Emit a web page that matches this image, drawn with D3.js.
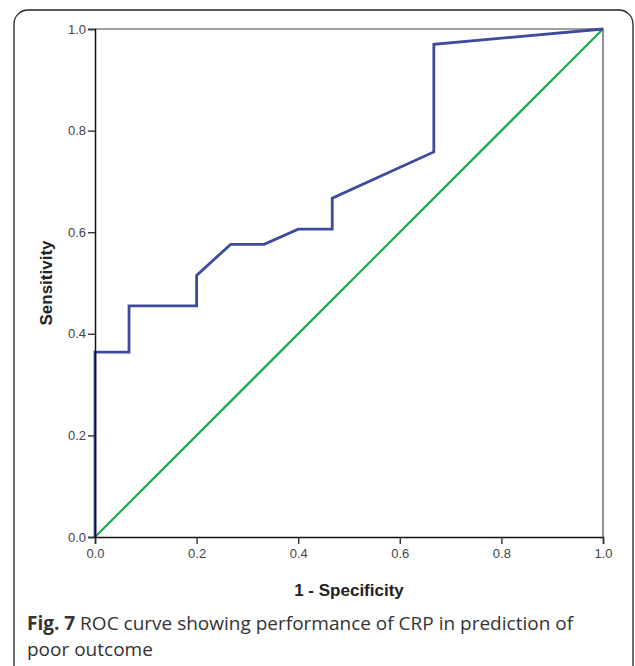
<!DOCTYPE html>
<html>
<head>
<meta charset="utf-8">
<title>ROC curve</title>
<script src="https://d3js.org/d3.v7.min.js"></script>
<style>
  body { margin: 0; background: #fff; }
  svg { display: block; }
</style>
</head>
<body>
<svg width="635" height="666"></svg>
<script>
// ROC points: 1 - specificity / sensitivity
var fpr = [0, 0, 0.067, 0.067, 0.2, 0.2, 0.267, 0.333, 0.4, 0.467, 0.467, 0.667, 0.667, 1];
var tpr = [0, 0.364, 0.364, 0.455, 0.455, 0.515, 0.576, 0.576, 0.606, 0.606, 0.667, 0.758, 0.970, 1];
var refLine = [0, 1];
var tickValues = [0, 0.2, 0.4, 0.6, 0.8, 1.0];

var svg = d3.select("svg");
var plotLeft = 95, plotTop = 29, size = 508;

// card frame
svg.append("rect")
  .attr("x", 14).attr("y", 10)
  .attr("width", 619).attr("height", 700)
  .attr("rx", 14)
  .attr("fill", "none")
  .attr("stroke", "#222")
  .attr("stroke-width", 1.3);

var x = d3.scaleLinear().domain([0, 1]).range([0, size]);
var y = d3.scaleLinear().domain([0, 1]).range([size, 0]);

var g = svg.append("g").attr("transform", "translate(" + plotLeft + "," + plotTop + ")");

// top & right frame lines
g.append("path")
  .attr("d", "M0,0H" + size + "V" + size)
  .attr("fill", "none")
  .attr("stroke", "#808080")
  .attr("stroke-width", 1.7);

// reference diagonal
g.append("path")
  .datum(refLine)
  .attr("fill", "none")
  .attr("stroke", "#1fae4b")
  .attr("stroke-width", 2.3)
  .attr("d", d3.line().x(function(d) { return x(d); }).y(function(d) { return y(d); }));

// ROC curve
var pts = fpr.map(function(v, i) { return [v, tpr[i]]; });
g.append("path")
  .datum(pts)
  .attr("fill", "none")
  .attr("stroke", "#3d4a9e")
  .attr("stroke-width", 2.8)
  .attr("stroke-linejoin", "miter")
  .attr("d", d3.line().x(function(d) { return x(d[0]); }).y(function(d) { return y(d[1]); }));

var fmt = d3.format(".1f");

var xAxis = g.append("g")
  .attr("transform", "translate(0," + size + ")")
  .call(d3.axisBottom(x).tickValues(tickValues).tickFormat(fmt).tickSize(7).tickPadding(5));
var yAxis = g.append("g")
  .call(d3.axisLeft(y).tickValues(tickValues).tickFormat(fmt).tickSize(7).tickPadding(2));

[xAxis, yAxis].forEach(function(a) {
  a.select(".domain").attr("stroke", "#111").attr("stroke-width", 1.5);
  a.selectAll(".tick line").attr("stroke", "#333").attr("stroke-width", 1.4);
  a.selectAll(".tick text")
    .attr("font-family", "Liberation Sans, Arial, sans-serif")
    .attr("font-size", 13)
    .attr("fill", "#444");
});

// axis titles
svg.append("text")
  .attr("x", plotLeft + size / 2)
  .attr("y", 596)
  .attr("text-anchor", "middle")
  .attr("font-family", "Liberation Sans, Arial, sans-serif")
  .attr("font-weight", "bold")
  .attr("font-size", 17)
  .attr("fill", "#222")
  .text("1 - Specificity");

svg.append("text")
  .attr("transform", "translate(52," + (plotTop + size / 2) + ") rotate(-90)")
  .attr("text-anchor", "middle")
  .attr("font-family", "Liberation Sans, Arial, sans-serif")
  .attr("font-weight", "bold")
  .attr("font-size", 17)
  .attr("fill", "#222")
  .text("Sensitivity");

// caption
var cap = svg.append("text")
  .attr("font-family", "Open Sans, Noto Sans, sans-serif")
  .attr("font-size", 19)
  .attr("fill", "#333");
var l1 = cap.append("tspan").attr("x", 27).attr("y", 630);
l1.append("tspan").attr("font-weight", "bold").text("Fig. 7");
l1.append("tspan").text(" ROC curve showing performance of CRP in prediction of");
cap.append("tspan").attr("x", 27).attr("y", 656).text("poor outcome");
</script>
</body>
</html>
